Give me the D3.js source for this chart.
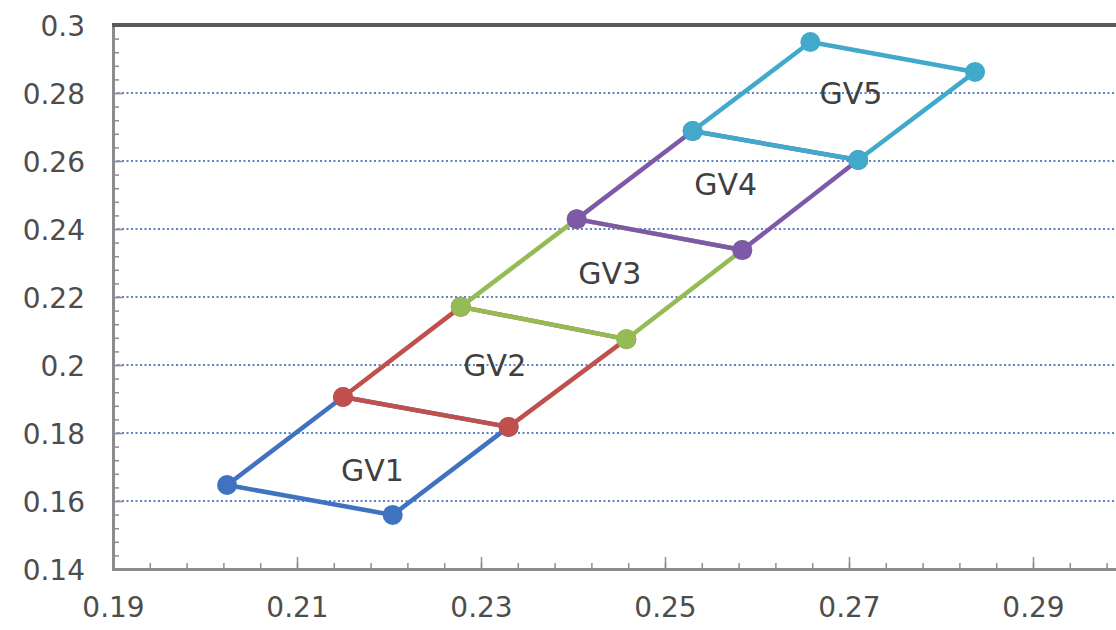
<!DOCTYPE html>
<html>
<head>
<meta charset="utf-8">
<script src="https://cdn.jsdelivr.net/npm/d3@7"></script>
<style>
  body { margin:0; background:#fff; }
  .tick text { font-family:"DejaVu Sans", sans-serif; font-size:28px; fill:#4d4d4d; }
  .glabel { font-family:"DejaVu Sans", sans-serif; font-size:30px; fill:#404040; }
</style>
</head>
<body>
<svg class="one"></svg>
<script>

// series names and their four corner points (x values, y values)
var seriesNames = ['GV1','GV2','GV3','GV4','GV5'];
var seriesColors = ['#3f73c0','#c0504d','#95bb54','#7d59a8','#41a9c9'];

var gv1x = [0.2024, 0.2204, 0.2330, 0.2150];
var gv1y = [0.1647, 0.1559, 0.1818, 0.1906];
var gv2x = [0.2150, 0.2330, 0.2458, 0.2278];
var gv2y = [0.1906, 0.1818, 0.2076, 0.2171];
var gv3x = [0.2278, 0.2458, 0.2584, 0.2404];
var gv3y = [0.2171, 0.2076, 0.2338, 0.2429];
var gv4x = [0.2404, 0.2584, 0.2710, 0.2530];
var gv4y = [0.2429, 0.2338, 0.2603, 0.2688];
var gv5x = [0.2530, 0.2710, 0.2837, 0.2658];
var gv5y = [0.2688, 0.2603, 0.2862, 0.2950];

// where the GV labels sit
var labelX = [0.2182, 0.2315, 0.2440, 0.2566, 0.2702];
var labelY = [0.1691, 0.2000, 0.2271, 0.2532, 0.2800];

var xTicks = [0.19, 0.21, 0.23, 0.25, 0.27, 0.29];
var yTicks = [0.14, 0.16, 0.18, 0.20, 0.22, 0.24, 0.26, 0.28, 0.30];
var xTickLabels = ['0.19','0.21','0.23','0.25','0.27','0.29'];
var yTickLabels = ['0.14','0.16','0.18','0.2','0.22','0.24','0.26','0.28','0.3'];

var svgwidth = 1116;
var svgheight = 630;

var margins = {top:25, bottom:61, left:113, right:-9};

var width = svgwidth - margins.left - margins.right;
var height = svgheight - margins.top - margins.bottom;

var svg = d3.select('.one')
            .attr('width', svgwidth)
            .attr('height', svgheight);

var xScale = d3.scaleLinear().domain([0.19, 0.30]).range([0, width]);
var yScale = d3.scaleLinear().domain([0.14, 0.30]).range([height, 0]);

var plot = svg.append('g')
              .attr('transform', 'translate(' + margins.left + ',' + margins.top + ')');

// dotted gridlines
plot.append('g').selectAll('line')
    .data(yTicks.slice(1, yTicks.length - 1))
    .enter().append('line')
    .attr('x1', 0).attr('x2', width)
    .attr('y1', function(d){ return yScale(d); })
    .attr('y2', function(d){ return yScale(d); })
    .attr('stroke', '#5f82c4')
    .attr('stroke-width', 1.8)
    .attr('stroke-dasharray', '2,2.5');

// minor ticks
var xMinor = d3.range(0, 28).map(function(i){ return 0.19 + i * 0.004; });
var yMinor = d3.range(0, 41).map(function(i){ return 0.14 + i * 0.004; });

plot.append('g').attr('transform', 'translate(0,' + height + ')')
    .call(d3.axisBottom(xScale).tickValues(xMinor).tickSize(-6).tickFormat(''))
    .call(function(g){ g.select('.domain').remove(); })
    .selectAll('line').attr('stroke', '#8c8c8c').attr('stroke-width', 1.5);

plot.append('g')
    .call(d3.axisLeft(yScale).tickValues(yMinor).tickSize(-6).tickFormat(''))
    .call(function(g){ g.select('.domain').remove(); })
    .selectAll('line').attr('stroke', '#8c8c8c').attr('stroke-width', 1.5);

// major axes
var xAxis = d3.axisBottom(xScale).tickValues(xTicks).tickSize(-12).tickPadding(28)
              .tickFormat(function(d, i){ return xTickLabels[i]; });
var gx = plot.append('g').attr('transform', 'translate(0,' + height + ')').call(xAxis);
gx.select('.domain').attr('stroke', '#8c8c8c').attr('stroke-width', 3);
gx.selectAll('line').attr('stroke', '#8c8c8c').attr('stroke-width', 1.5);

var yAxis = d3.axisLeft(yScale).tickValues(yTicks).tickSize(-10).tickPadding(28)
              .tickFormat(function(d, i){ return yTickLabels[i]; });
var gy = plot.append('g').call(yAxis);
gy.select('.domain').attr('stroke', '#8c8c8c').attr('stroke-width', 3);
gy.selectAll('line').attr('stroke', '#8c8c8c').attr('stroke-width', 1.5);
gy.selectAll('text').attr('dy', '0.36em');

// top border
plot.append('line')
    .attr('x1', -1).attr('x2', width)
    .attr('y1', yScale(0.30)).attr('y2', yScale(0.30))
    .attr('stroke', '#5a5a5a').attr('stroke-width', 4);

// series
var xs = [gv1x, gv2x, gv3x, gv4x, gv5x];
var ys = [gv1y, gv2y, gv3y, gv4y, gv5y];

var linemake = d3.line()
                 .x(function(d){ return xScale(d.x); })
                 .y(function(d){ return yScale(d.y); });

seriesNames.forEach(function(name, s){
  var pts = xs[s].map(function(v, i){ return {x:v, y:ys[s][i]}; });
  var loop = pts.concat([pts[0]]);
  var g = plot.append('g').classed(name, true);
  g.append('path')
   .datum(loop)
   .attr('d', linemake)
   .attr('fill', 'none')
   .attr('stroke', seriesColors[s])
   .attr('stroke-width', 4.5)
   .attr('stroke-linejoin', 'round');
  g.selectAll('circle').data(pts).enter()
   .append('circle')
   .attr('cx', function(d){ return xScale(d.x); })
   .attr('cy', function(d){ return yScale(d.y); })
   .attr('r', 10)
   .attr('fill', seriesColors[s]);
});

plot.append('g').selectAll('text')
    .data(seriesNames).enter()
    .append('text')
    .classed('glabel', true)
    .attr('x', function(d, i){ return xScale(labelX[i]); })
    .attr('y', function(d, i){ return yScale(labelY[i]); })
    .attr('dy', '0.36em')
    .attr('text-anchor', 'middle')
    .text(function(d){ return d; });

</script>
</body>
</html>
